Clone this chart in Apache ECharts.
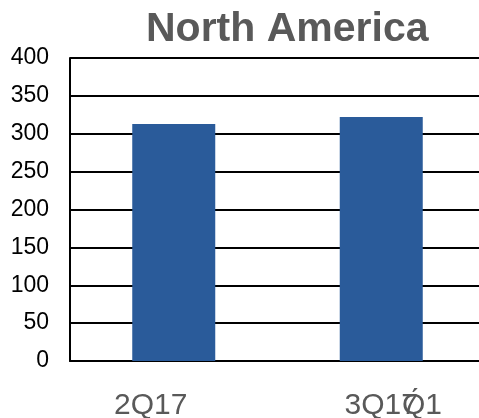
<!DOCTYPE html>
<html>
<head>
<meta charset="utf-8">
<script src="https://cdn.jsdelivr.net/npm/echarts@6/dist/echarts.min.js"></script>
<style>
  html, body { margin: 0; padding: 0; background: #fff; }
  #chart { width: 479px; height: 418px; }
</style>
</head>
<body>
<div id="chart"></div>
<script>
const titleText = 'North America';
const quarters = ['2Q17', '3Q17'];
const values = [313, 322];
const yTicks = [0, 50, 100, 150, 200, 250, 300, 350, 400];

const chart = echarts.init(document.getElementById('chart'));

const option = {
  animation: false,
  title: {
    text: titleText,
    left: 146,
    top: 9,
    padding: 0,
    textStyle: {
      fontFamily: 'Liberation Sans, Arial, sans-serif',
      fontSize: 41,
      fontWeight: 'bold',
      color: '#595959'
    }
  },
  grid: {
    left: 70,
    width: 415,
    top: 58,
    bottom: 57,
    containLabel: false,
    outerBoundsMode: 'none'
  },
  xAxis: {
    type: 'category',
    data: quarters,
    axisLine: { lineStyle: { color: '#000', width: 2 } },
    axisTick: { show: false },
    axisLabel: {
      margin: 30,
      fontSize: 30,
      fontFamily: 'Liberation Sans, Arial, sans-serif',
      color: '#595959',
      // first label sits left of its bar in the original
      formatter: (v, i) => i === 0 ? '{s|' + v + '}' : v,
      rich: {
        s: {
          fontSize: 30,
          fontFamily: 'Liberation Sans, Arial, sans-serif',
          color: '#595959',
          padding: [0, 46, 0, 0]
        }
      }
    }
  },
  yAxis: {
    type: 'value',
    min: yTicks[0],
    max: yTicks[yTicks.length - 1],
    interval: 50,
    axisLine: { show: true, lineStyle: { color: '#000', width: 2 } },
    axisTick: { show: false },
    splitLine: { lineStyle: { color: '#000', width: 2 } },
    axisLabel: {
      margin: 21,
      fontSize: 23,
      fontFamily: 'Liberation Sans, Arial, sans-serif',
      color: '#000'
    }
  },
  series: [{
    type: 'bar',
    data: values,
    barWidth: '40%',
    itemStyle: { color: '#2A5B9A' }
  }],
  graphic: [{
    // stray overlapping text next to the second label
    type: 'text',
    left: 402,
    top: 391,
    style: {
      text: 'Q\u03011',
      font: '30px "Liberation Sans", Arial, sans-serif',
      fill: '#595959'
    }
  }]
};

chart.setOption(option);
</script>
</body>
</html>
